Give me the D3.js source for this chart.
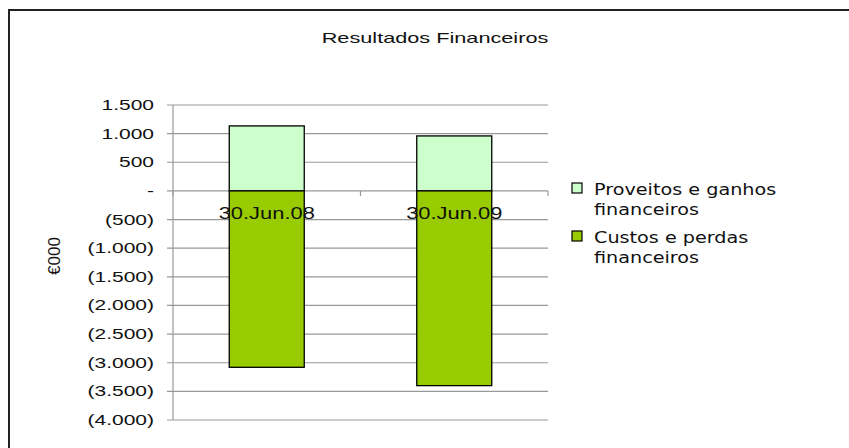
<!DOCTYPE html>
<html>
<head>
<meta charset="utf-8">
<script src="https://cdn.jsdelivr.net/npm/d3@7"></script>
<style>
  body { margin: 0; background: #fff; }
  svg { display: block; }
</style>
</head>
<body>
<svg id="chart" width="849" height="448"></svg>
<script>
// data
const categories = ["30.Jun.08", "30.Jun.09"];
const proveitos = [1135, 960];      // Proveitos e ganhos financeiros
const custos = [-3080, -3400];      // Custos e perdas financeiros
const yTicks = [1500, 1000, 500, 0, -500, -1000, -1500, -2000, -2500, -3000, -3500, -4000];
const seriesNames = [["Proveitos e ganhos", "financeiros"], ["Custos e perdas", "financeiros"]];
const seriesColors = ["#ccffcc", "#99cc00"];

const svg = d3.select("#chart");

// pt-PT style accounting format: 1.500 / - / (1.500)
const locale = d3.formatLocale({decimal: ",", thousands: ".", grouping: [3], currency: ["", ""]});
const fmt = locale.format(",d");
const accounting = v => v === 0 ? "-" : (v < 0 ? "(" + fmt(-v) + ")" : fmt(v));

// text in the reference is drawn wide, so stretch it horizontally
function wideText(parent, x, y, txt, sx) {
    return parent.append("text")
        .attr("transform", "translate(" + x + "," + y + ") scale(" + sx + ",1)")
        .text(txt);
}

// chart frame (right and bottom edge fall outside the picture)
svg.append("path")
    .attr("d", "M9,449 L9,10 L850,10")
    .attr("fill", "none")
    .attr("stroke", "#222")
    .attr("stroke-width", 2);

wideText(svg, 435, 43, "Resultados Financeiros", 1.55)
    .attr("text-anchor", "middle")
    .attr("font-family", "Liberation Sans, Arial, sans-serif")
    .attr("font-size", "14px")
    .attr("fill", "#111");

const x = d3.scaleBand().domain(categories).range([173, 548]).padding(0);
const y = d3.scaleLinear().domain([-4000, 1500]).range([420, 105]);
const barW = x.bandwidth() * 0.4;

// gridlines
svg.append("g")
    .selectAll("line")
    .data(yTicks)
    .join("line")
    .attr("x1", 167)
    .attr("x2", 548)
    .attr("y1", d => y(d))
    .attr("y2", d => y(d))
    .attr("stroke", "#999")
    .attr("stroke-width", 1.2);

// y axis line
svg.append("line")
    .attr("x1", 173).attr("x2", 173)
    .attr("y1", y(1500)).attr("y2", y(-4000))
    .attr("stroke", "#999")
    .attr("stroke-width", 1.2);

// x axis ticks at the category boundaries
const bounds = categories.map(c => x(c)).concat([x.range()[1]]);
svg.append("g")
    .selectAll("line")
    .data(bounds)
    .join("line")
    .attr("x1", d => d).attr("x2", d => d)
    .attr("y1", y(0)).attr("y2", y(0) + 5)
    .attr("stroke", "#999")
    .attr("stroke-width", 1.2);

// y tick labels
const yLab = svg.append("g")
    .attr("font-family", "Liberation Sans, Arial, sans-serif")
    .attr("font-size", "14px")
    .attr("fill", "#111")
    .attr("text-anchor", "end");
yTicks.forEach(t => {
    wideText(yLab, 154, y(t) + 5, accounting(t), 1.5);
});

// y axis title
svg.append("text")
    .attr("transform", "translate(60,256) rotate(-90)")
    .attr("text-anchor", "middle")
    .attr("font-family", "Liberation Sans, Arial, sans-serif")
    .attr("font-size", "17px")
    .attr("fill", "#111")
    .text("€000");

// stacked bars
const bars = svg.append("g").attr("stroke", "#000").attr("stroke-width", 1.3);
bars.selectAll("rect.pos")
    .data(categories)
    .join("rect")
    .attr("class", "pos")
    .attr("x", d => x(d) + (x.bandwidth() - barW) / 2)
    .attr("width", barW)
    .attr("y", (d, i) => y(proveitos[i]))
    .attr("height", (d, i) => y(0) - y(proveitos[i]))
    .attr("fill", seriesColors[0]);
bars.selectAll("rect.neg")
    .data(categories)
    .join("rect")
    .attr("class", "neg")
    .attr("x", d => x(d) + (x.bandwidth() - barW) / 2)
    .attr("width", barW)
    .attr("y", y(0))
    .attr("height", (d, i) => y(custos[i]) - y(0))
    .attr("fill", seriesColors[1]);

// category labels, sitting on the zero line over the bars
const xLab = svg.append("g")
    .attr("font-family", "Liberation Sans, Arial, sans-serif")
    .attr("font-size", "16px")
    .attr("fill", "#111")
    .attr("text-anchor", "middle");
categories.forEach(c => {
    wideText(xLab, x(c) + x.bandwidth() / 2, 219, c, 1.37);
});

// legend
const legend = svg.append("g")
    .attr("font-family", "DejaVu Sans, Verdana, sans-serif")
    .attr("font-size", "15px")
    .attr("fill", "#111");
seriesNames.forEach((lines, i) => {
    const top = 195 + i * 48;
    legend.append("rect")
        .attr("x", 572)
        .attr("y", top - 12)
        .attr("width", 10)
        .attr("height", 10)
        .attr("fill", seriesColors[i])
        .attr("stroke", "#000")
        .attr("stroke-width", 1.2);
    lines.forEach((ln, j) => {
        wideText(legend, 594, top + j * 20, ln, 1.28);
    });
});
</script>
</body>
</html>
